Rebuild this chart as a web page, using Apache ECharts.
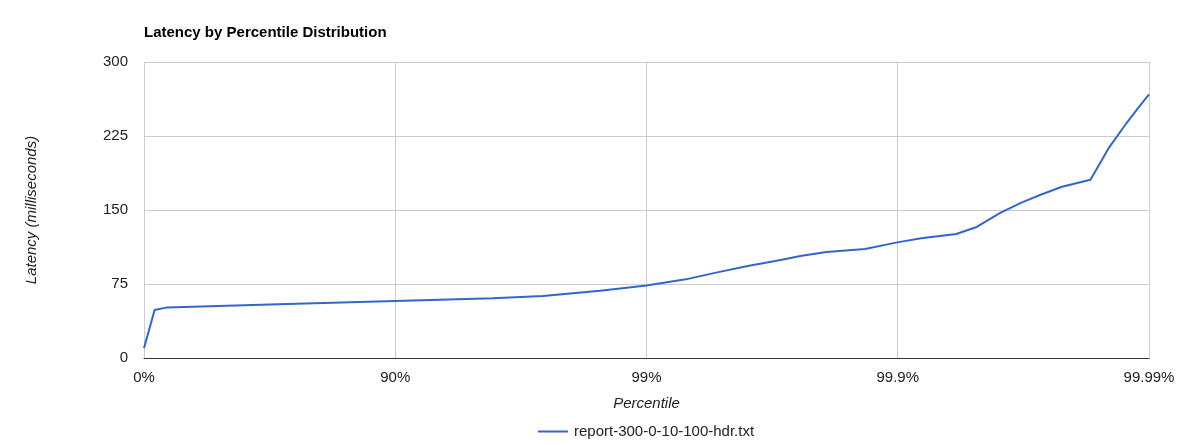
<!DOCTYPE html>
<html><head><meta charset="utf-8">
<script src="https://cdn.jsdelivr.net/npm/echarts@6/dist/echarts.min.js"></script>
<style>html,body{margin:0;padding:0;background:#fff}#c{width:1191px;height:445px}</style>
</head><body><div id="c"></div>
<script>
const percentiles = [0, 9.26, 19.1, 70.8, 90, 95.91, 97.42, 98.47, 99, 99.302, 99.477, 99.609, 99.693, 99.759, 99.808, 99.865, 99.8996, 99.9194, 99.9415, 99.9515, 99.9609, 99.9678, 99.973, 99.9778, 99.9829, 99.9856, 99.9877, 99.9889, 99.99];
const latencyMs = [10, 48.6, 51.3, 54.4, 57.8, 60.5, 62.8, 68.2, 73.5, 79.7, 86.8, 93.6, 98.3, 103.7, 107.4, 110.5, 117.2, 121.3, 125.7, 132.8, 147, 157.4, 165.5, 173.6, 180.7, 213.5, 237.9, 252.7, 267.3];
const xTickLabels = {1: '0%', 10: '90%', 100: '99%', 1000: '99.9%', 10000: '99.99%'};
const yTicks = [0, 75, 150, 225, 300];
const seriesName = 'report-300-0-10-100-hdr.txt';

const points = percentiles.map((p, i) => [Math.min(10000, 100 / (100 - p)), latencyMs[i]]);
const font = 'Arial, "Liberation Sans", sans-serif';
const chart = echarts.init(document.getElementById('c'), null, {renderer: 'canvas'});
chart.setOption({
  animation: false,
  title: {text: 'Latency by Percentile Distribution', left: 144, top: 25, padding: 0,
    textStyle: {fontFamily: font, fontSize: 15, fontWeight: 'bold', color: '#000'}},
  grid: {left: 144, right: 42, top: 62, bottom: 87},
  legend: {top: 424, left: 538, padding: 0, icon: 'rect', itemWidth: 30, itemHeight: 2, itemGap: 6,
    textStyle: {fontFamily: font, fontSize: 15, color: '#222', padding: [0, 0, 0, 1]}, data: [seriesName]},
  xAxis: {type: 'log', logBase: 10, min: 1, max: 10000, splitNumber: 4,
    name: 'Percentile', nameLocation: 'middle', nameGap: 38,
    nameTextStyle: {fontFamily: font, fontSize: 15, fontStyle: 'italic', color: '#222'},
    axisLine: {show: true, lineStyle: {color: '#333', width: 1}},
    axisTick: {show: false}, minorTick: {show: false},
    axisLabel: {fontFamily: font, fontSize: 15, color: '#222', margin: 12,
      formatter: v => xTickLabels[Math.round(v)] ?? ''},
    splitLine: {show: true, lineStyle: {color: '#ccc', width: 1}}},
  yAxis: {type: 'value', min: yTicks[0], max: yTicks[yTicks.length - 1], interval: 75,
    name: 'Latency (milliseconds)', nameLocation: 'middle', nameGap: 105, nameRotate: 90,
    nameTextStyle: {fontFamily: font, fontSize: 15, fontStyle: 'italic', color: '#222'},
    axisLine: {show: false}, axisTick: {show: false},
    axisLabel: {fontFamily: font, fontSize: 15, color: '#222', margin: 16, padding: [4, 0, 0, 0]},
    splitLine: {show: true, lineStyle: {color: '#ccc', width: 1}}},
  series: [{name: seriesName, type: 'line', data: points, showSymbol: false, symbol: 'none',
    lineStyle: {color: '#3366cc', width: 2}, itemStyle: {color: '#3366cc'}, clip: true}]
});
</script></body></html>
